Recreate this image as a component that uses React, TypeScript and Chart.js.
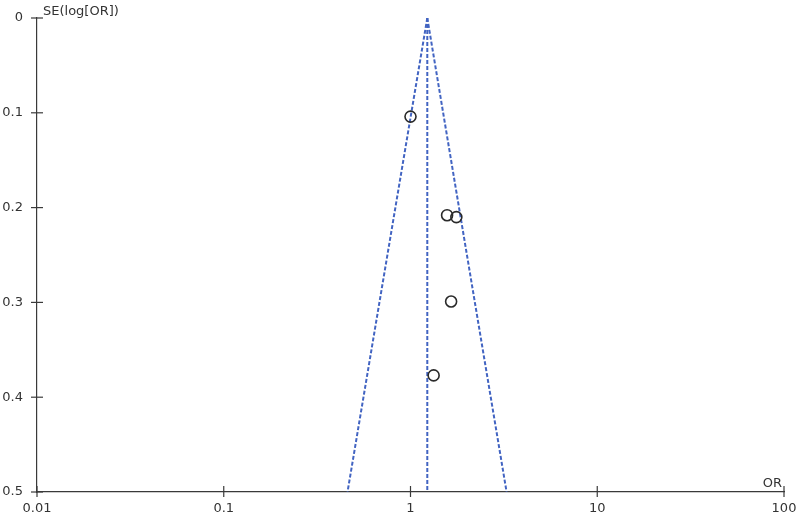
import React, { useEffect, useRef } from "react";
import { Chart, registerables } from "chart.js";

Chart.register(...registerables);

// Study points: odds ratio and standard error of log(OR)
const studyOR = [1.0, 1.57, 1.76, 1.65, 1.33];
const studySE = [0.104, 0.208, 0.21, 0.299, 0.377];

// Pooled estimate (centre line) and funnel limits
const pooledOR = 1.23;
const funnelSE = [0, 0.5];
const funnelLeftOR = [1.23, 0.46];
const funnelRightOR = [1.23, 3.27];

// Axis ticks
const xTicks = [0.01, 0.1, 1, 10, 100];
const yTicks = [0, 0.1, 0.2, 0.3, 0.4, 0.5];
const yTitle = "SE(log[OR])";
const xTitle = "OR";

const FONT = "'DejaVu Sans', 'Liberation Sans', Arial, sans-serif";
const AXIS = "#3a3a3a";
const TEXT = "#333";
const BLUE = "#4264c2";

const axisPlugin = {
  id: "funnelAxes",
  afterDraw(chart: any) {
    const { ctx } = chart;
    const xs = chart.scales.x;
    const ys = chart.scales.y;
    const area = chart.chartArea;
    ctx.save();
    ctx.strokeStyle = AXIS;
    ctx.lineWidth = 1.2;
    for (const v of xTicks) {
      const px = xs.getPixelForValue(v);
      ctx.beginPath();
      ctx.moveTo(px, area.bottom - 6);
      ctx.lineTo(px, area.bottom + 5);
      ctx.stroke();
    }
    for (const v of yTicks) {
      const py = ys.getPixelForValue(v);
      ctx.beginPath();
      ctx.moveTo(area.left - 6, py);
      ctx.lineTo(area.left + 6, py);
      ctx.stroke();
    }
    ctx.fillStyle = TEXT;
    ctx.font = `13px ${FONT}`;
    ctx.textAlign = "left";
    ctx.textBaseline = "alphabetic";
    ctx.fillText(yTitle, area.left + 6, area.top - 3);
    ctx.textAlign = "right";
    ctx.fillText(xTitle, area.right - 2, area.bottom - 5);
    ctx.restore();
  },
};

export default function App() {
  const ref = useRef<HTMLCanvasElement | null>(null);
  useEffect(() => {
    document.body.style.margin = "0";
    if (!ref.current) return;
    const dashed = {
      showLine: true,
      borderColor: BLUE,
      borderWidth: 2,
      borderDash: [4, 2],
      pointRadius: 0,
    };
    const chart = new Chart(ref.current, {
      type: "scatter",
      data: {
        datasets: [
          {
            label: "Studies",
            data: studyOR.map((x, i) => ({ x, y: studySE[i] })),
            pointStyle: "circle",
            pointRadius: 5.5,
            pointBorderWidth: 1.6,
            borderColor: "#2a2a2a",
            backgroundColor: "rgba(0,0,0,0)",
            showLine: false,
          },
          {
            label: "Pooled",
            data: funnelSE.map((y) => ({ x: pooledOR, y })),
            ...dashed,
          },
          {
            label: "Left limit",
            data: funnelSE.map((y, i) => ({ x: funnelLeftOR[i], y })),
            ...dashed,
          },
          {
            label: "Right limit",
            data: funnelSE.map((y, i) => ({ x: funnelRightOR[i], y })),
            ...dashed,
          },
        ],
      },
      options: {
        animation: false,
        responsive: false,
        layout: { padding: { top: 18, right: 16, left: 0, bottom: 0 } },
        plugins: { legend: { display: false }, tooltip: { enabled: false } },
        scales: {
          x: {
            type: "logarithmic",
            min: 0.01,
            max: 100,
            afterBuildTicks: (s: any) => {
              s.ticks = xTicks.map((value) => ({ value }));
            },
            afterFit: (s: any) => {
              s.height = 30;
              s.paddingLeft = 0;
              s.paddingRight = 0;
            },
            grid: { display: false, drawTicks: false },
            border: { display: true, color: AXIS, width: 1.2 },
            ticks: {
              color: TEXT,
              font: { family: FONT, size: 13 },
              padding: 9,
              maxRotation: 0,
              autoSkip: false,
              callback: (v: any) => String(v),
            },
          },
          y: {
            type: "linear",
            reverse: true,
            min: 0,
            max: 0.5,
            afterBuildTicks: (s: any) => {
              s.ticks = yTicks.map((value) => ({ value }));
            },
            afterFit: (s: any) => {
              s.width = 37;
              s.paddingTop = 0;
              s.paddingBottom = 0;
            },
            grid: { display: false, drawTicks: false },
            border: { display: true, color: AXIS, width: 1.2 },
            ticks: {
              color: TEXT,
              font: { family: FONT, size: 13 },
              padding: 14,
              callback: (v: any) => String(v),
            },
          },
        },
      },
      plugins: [axisPlugin],
    });
    return () => chart.destroy();
  }, []);
  return (
    <div style={{ width: 800, height: 522, background: "#fff" }}>
      <canvas ref={ref} width={800} height={522} style={{ width: 800, height: 522 }} />
    </div>
  );
}
